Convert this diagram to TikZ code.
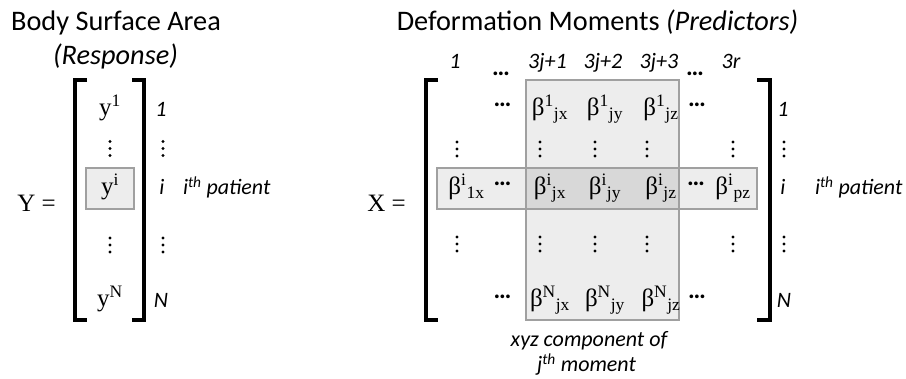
\documentclass[tikz,border=0pt]{standalone}
\usepackage{fontspec}
\setmainfont{Carlito}
\newfontfamily\serf{Liberation Serif}
\newcommand\ttlfont{\fontsize{28.3}{33}\selectfont}
\newcommand\labfont{\fontsize{22}{26}\selectfont\itshape}
\newcommand\entfont{\serf\fontsize{25}{30}\selectfont}
\newcommand\bt[2]{β\textsuperscript{#1}\textsubscript{#2}}
\definecolor{boxlight}{HTML}{EDEDED}
\definecolor{boxdark}{HTML}{D8D8D8}
\definecolor{boxline}{HTML}{A0A0A0}
\begin{document}
\begin{tikzpicture}[x=1pt,y=-1pt,
  every node/.style={inner sep=0pt,outer sep=0pt},
  ttl/.style={font=\ttlfont,anchor=base},
  lab/.style={font=\labfont,anchor=base},
  ent/.style={font=\entfont,anchor=base},
  hdt/.style={font=\fontsize{25}{28}\selectfont\bfseries,anchor=center},
  vdots/.pic={\fill (0,-7) circle (1.6) (0,0) circle (1.6) (0,7) circle (1.6);},
  brk/.style={line width=3.5pt,line cap=butt,line join=miter},
  shbox/.style={fill=boxlight,draw=boxline,line width=1.1pt},
  shdark/.style={fill=boxdark,draw=boxline,line width=1.1pt}]
\useasboundingbox (0,0) rectangle (906,379);

% ---------- Y side ----------
\node[ttl] (t1) at (116,31) {Body Surface Area};
\node[ttl,font=\ttlfont\itshape] (t1b) at (115.5,65) {(Response)};

\draw[shbox] (86,168) rectangle (134,209);
\draw[brk] (87,80) -- (75,80) -- (75,320) -- (87,320);
\draw[brk] (132,80) -- (144,80) -- (144,320) -- (132,320);

\node[ent] (Yeq) at (36.5,212) {Y =};
\node[ent] (y1) at (110,116) {y\textsuperscript{1}};
\pic (yd1) at (110,148.5) {vdots};
\node[ent] (yi) at (110,195) {y\textsuperscript{i}};
\pic (yd2) at (110,245) {vdots};
\node[ent] (yN) at (110,307) {y\textsuperscript{N}};

\node[lab] (yl1) at (161,117) {1};
\pic (yld1) at (163,148.5) {vdots};
\node[lab] (yli) at (162,195) {i};
\node[lab,anchor=base west] (ylp) at (183,195) {i\textsuperscript{th} patient};
\pic (yld2) at (163,245) {vdots};
\node[lab] (ylN) at (161,308) {N};

% ---------- X side ----------
\node[ttl] (t2) at (597.5,31) {Deformation Moments \textit{(Predictors)}};

\node[lab] (c1) at (455,69) {1};
\node[hdt] (cd1) at (501,74) {…};
\node[lab] (c2) at (547.5,69) {3j+1};
\node[lab] (c3) at (603,69) {3j+2};
\node[lab] (c4) at (659,69) {3j+3};
\node[hdt] (cd2) at (695,74) {…};
\node[lab] (c5) at (731,69) {3r};

\draw[shbox] (526,80) rectangle (679,320);
\draw[shbox] (437,168) rectangle (757,209);
\draw[shdark] (526,168) rectangle (679,209);

\draw[brk] (438,80) -- (426,80) -- (426,320) -- (438,320);
\draw[brk] (757,80) -- (770,80) -- (770,320) -- (757,320);

\node[ent] (Xeq) at (386.5,212) {X =};

% row 1
\node[hdt] (r1d) at (502.5,105) {…};
\node[ent] (b1x) at (550,116) {\bt{1}{jx}};
\node[ent] (b1y) at (605,116) {\bt{1}{jy}};
\node[ent] (b1z) at (661,116) {\bt{1}{jz}};
\node[hdt] (r1e) at (697,105) {…};
% vdots row
\pic (v1a) at (457,149) {vdots};
\pic (v1b) at (540,149) {vdots};
\pic (v1c) at (595,149) {vdots};
\pic (v1d) at (647,149) {vdots};
\pic (v1e) at (733,149) {vdots};
% row i
\node[ent] (bi1) at (466.5,195) {\bt{i}{1x}};
\node[hdt] (rid) at (502.5,184) {…};
\node[ent] (bix) at (550,195) {\bt{i}{jx}};
\node[ent] (biy) at (605,195) {\bt{i}{jy}};
\node[ent] (biz) at (661,195) {\bt{i}{jz}};
\node[hdt] (rie) at (696,184) {…};
\node[ent] (bip) at (733,195) {\bt{i}{pz}};
% vdots row
\pic (v2a) at (457,244) {vdots};
\pic (v2b) at (540,244) {vdots};
\pic (v2c) at (595,244) {vdots};
\pic (v2d) at (647,244) {vdots};
\pic (v2e) at (733,244) {vdots};
% row N
\node[hdt] (rNd) at (502.5,297) {…};
\node[ent] (bNx) at (550,307) {\bt{N}{jx}};
\node[ent] (bNy) at (605,307) {\bt{N}{jy}};
\node[ent] (bNz) at (661,307) {\bt{N}{jz}};
\node[hdt] (rNe) at (697,297) {…};

% right labels
\node[lab] (xl1) at (783,117) {1};
\pic (xld1) at (784,149) {vdots};
\node[lab] (xli) at (783,195) {i};
\node[lab,anchor=base west] (xlp) at (815,195) {i\textsuperscript{th} patient};
\pic (xld2) at (784,244) {vdots};
\node[lab] (xlN) at (784,308) {N};

% caption
\node[lab] (cap1) at (589,347) {xyz component of};
\node[lab] (cap2) at (586.5,372) {j\textsuperscript{th} moment};
\end{tikzpicture}
\end{document}
